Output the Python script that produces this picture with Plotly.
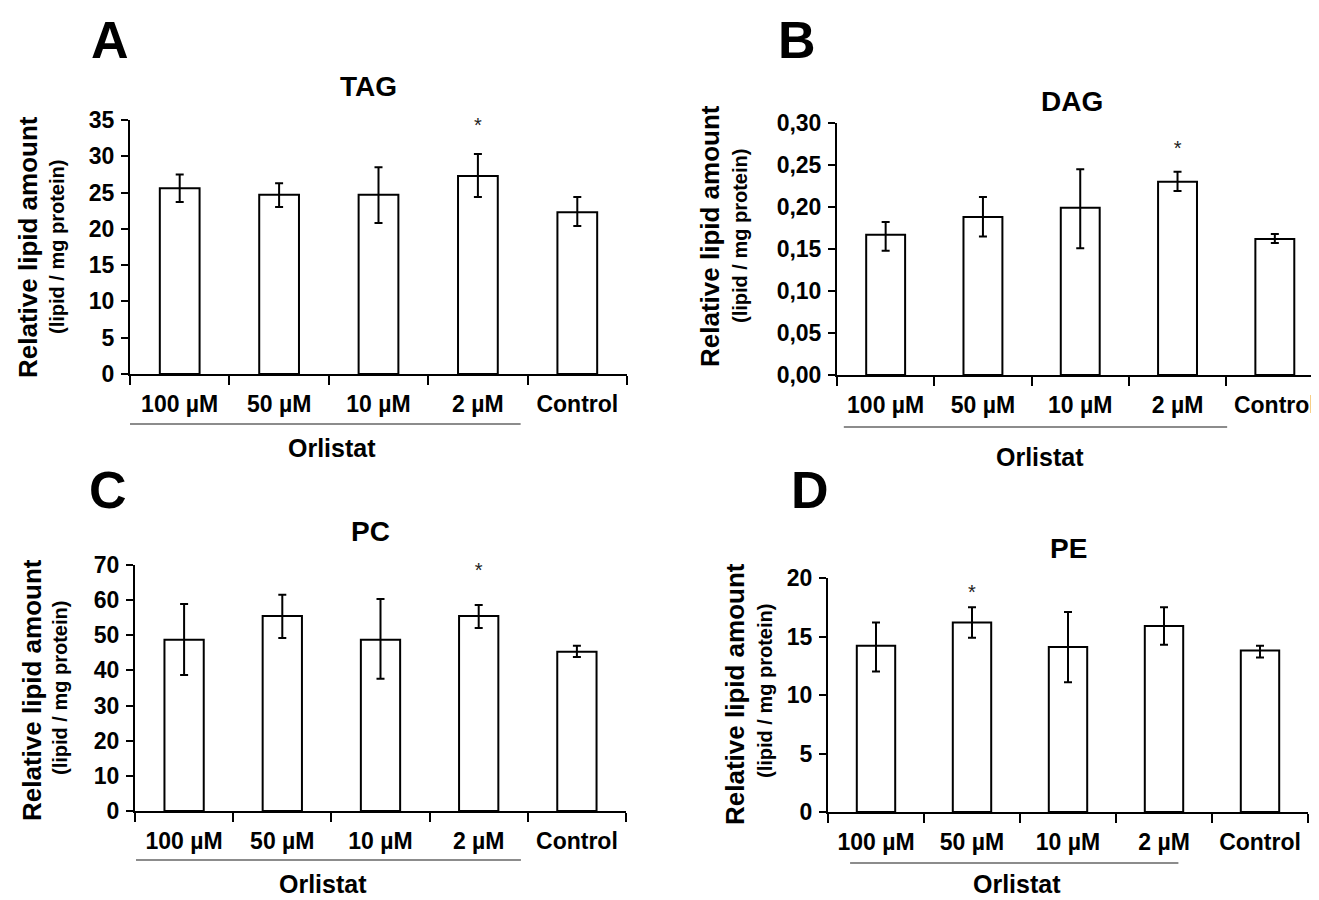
import plotly.graph_objects as go

# ---------------- data ----------------
categories = ["100 µM", "50 µM", "10 µM", "2 µM", "Control"]

tag_values = [25.6, 24.7, 24.7, 27.3, 22.3]
tag_err_plus = [1.9, 1.6, 3.8, 3.0, 2.1]
tag_err_minus = [1.9, 1.7, 3.9, 2.9, 1.9]

dag_values = [0.167, 0.188, 0.199, 0.230, 0.162]
dag_err_plus = [0.015, 0.024, 0.046, 0.012, 0.006]
dag_err_minus = [0.019, 0.023, 0.048, 0.011, 0.005]

pc_values = [48.7, 55.5, 48.7, 55.5, 45.3]
pc_err_plus = [10.2, 6.0, 11.6, 3.1, 1.7]
pc_err_minus = [10.0, 6.3, 11.1, 3.4, 1.5]

pe_values = [14.2, 16.2, 14.1, 15.9, 13.8]
pe_err_plus = [2.0, 1.3, 3.0, 1.6, 0.4]
pe_err_minus = [2.2, 1.3, 3.0, 1.6, 0.6]

# significance markers (category, y position)
tag_star = ("2 µM", 34.0)
dag_star = ("2 µM", 0.268)
pc_star = ("2 µM", 68.0)
pe_star = ("50 µM", 18.6)

panel_titles = ["TAG", "DAG", "PC", "PE"]
panel_letters = ["A", "B", "C", "D"]
y_ranges = [[0, 35], [0, 0.30], [0, 70], [0, 20]]
y_dticks = [5, 0.05, 10, 5]
y_formats = ["d", ".2f", "d", "d"]

# ---------------- layout geometry ----------------
# The page body has an 8px margin, so the figure is sized to fill the
# 1319x900 window exactly; positions below are window pixels.
PAGE_MARGIN = 8
W, H = 1319 - PAGE_MARGIN, 900 - PAGE_MARGIN
FONT = "Liberation Sans, Arial, sans-serif"


def px(x):
    return (x - PAGE_MARGIN) / W


def py(y):
    return 1 - (y - PAGE_MARGIN) / H


# window-pixel boxes of plot areas: (x_left, x_right, y_top, y_bottom)
boxes = [
    (130, 627, 120, 374),
    (837, 1319, 123, 375),
    (135, 626, 565, 811),
    (828, 1308, 578, 812),
]
x_ranges = [[-0.5, 4.5], [-0.5, 4.454], [-0.5, 4.5], [-0.5, 4.5]]

# underline spans (in category units) and y (pixel)
underlines = [(-0.62, 3.43, 424), (-0.43, 3.51, 427), (-0.49, 3.43, 860), (-0.27, 3.15, 863)]
orlistat_pos = [(332, 448), (1040, 457), (323, 884), (1017, 884)]
title_pos = [(368, 87), (1072, 101), (370, 531), (1068, 548)]
letter_pos = [(110, 40), (797, 40), (108, 490), (810, 490)]
ytitle_main = [(28, 247), (710, 236), (32, 690), (735, 694)]
ytitle_sub = [(57, 247), (740, 236), (60, 688), (765, 691)]

series = [
    (tag_values, tag_err_plus, tag_err_minus, tag_star),
    (dag_values, dag_err_plus, dag_err_minus, dag_star),
    (pc_values, pc_err_plus, pc_err_minus, pc_star),
    (pe_values, pe_err_plus, pe_err_minus, pe_star),
]

fig = go.Figure()
annotations = []
shapes = []
layout_axes = {}

for i, (vals, ep, em, star) in enumerate(series):
    n = i + 1
    xa = "x" if n == 1 else f"x{n}"
    ya = "y" if n == 1 else f"y{n}"
    fig.add_trace(go.Bar(
        x=categories, y=vals, xaxis=xa, yaxis=ya,
        marker=dict(color="white", line=dict(color="black", width=2)),
        error_y=dict(type="data", symmetric=False, array=ep, arrayminus=em,
                     color="black", thickness=2, width=4),
        width=0.4, showlegend=False, hoverinfo="x+y",
    ))
    fig.add_trace(go.Scatter(
        x=[star[0]], y=[star[1]], xaxis=xa, yaxis=ya, mode="text", text=["*"],
        textfont=dict(family=FONT, size=20, color="#222"), showlegend=False,
        hoverinfo="skip", cliponaxis=False,
    ))

    xl, xr, yt, yb = boxes[i]
    xkey = "xaxis" if n == 1 else f"xaxis{n}"
    ykey = "yaxis" if n == 1 else f"yaxis{n}"
    layout_axes[xkey] = dict(
        domain=[max(px(xl), 0.0), min(px(xr), 1.0)], anchor=ya, type="category",
        range=x_ranges[i], showline=True, linecolor="black", linewidth=2,
        ticks="outside", tickson="boundaries", ticklen=9, tickwidth=2,
        tickcolor="black", showgrid=False, zeroline=False, automargin=False,
        tickfont=dict(family=FONT, size=23, color="black", weight="bold"),
        ticklabelstandoff=8, fixedrange=True,
    )
    layout_axes[ykey] = dict(
        domain=[py(yb), py(yt)], anchor=xa, range=y_ranges[i],
        dtick=y_dticks[i], tick0=0, tickformat=y_formats[i],
        showline=True, linecolor="black", linewidth=2,
        ticks="outside", ticklen=7, tickwidth=2, tickcolor="black",
        showgrid=False, zeroline=False, automargin=False,
        tickfont=dict(family=FONT, size=23, color="black", weight="bold"),
        ticklabelstandoff=2, fixedrange=True,
    )

    x0, x1, uy = underlines[i]
    shapes.append(dict(type="line", xref=xa, yref="paper", x0=x0, x1=x1,
                       y0=py(uy), y1=py(uy),
                       line=dict(color="#666666", width=1.5)))

    ox, oy = orlistat_pos[i]
    annotations.append(dict(text="Orlistat", x=px(ox), y=py(oy), xref="paper", yref="paper",
                            showarrow=False, xanchor="center", yanchor="middle",
                            font=dict(family=FONT, size=25, color="black", weight="bold")))
    tx, ty = title_pos[i]
    annotations.append(dict(text=panel_titles[i], x=px(tx), y=py(ty), xref="paper", yref="paper",
                            showarrow=False, xanchor="center", yanchor="middle",
                            font=dict(family=FONT, size=28, color="black", weight="bold")))
    lx, ly = letter_pos[i]
    annotations.append(dict(text=panel_letters[i], x=px(lx), y=py(ly), xref="paper", yref="paper",
                            showarrow=False, xanchor="center", yanchor="middle",
                            font=dict(family=FONT, size=52, color="black", weight="bold")))
    mx, my = ytitle_main[i]
    annotations.append(dict(text="Relative lipid amount", x=px(mx), y=py(my), xref="paper", yref="paper",
                            showarrow=False, xanchor="center", yanchor="middle", textangle=-90,
                            font=dict(family=FONT, size=26, color="black", weight="bold")))
    sx, sy = ytitle_sub[i]
    annotations.append(dict(text="(lipid / mg protein)", x=px(sx), y=py(sy), xref="paper", yref="paper",
                            showarrow=False, xanchor="center", yanchor="middle", textangle=-90,
                            font=dict(family=FONT, size=20, color="black", weight="bold")))

fig.update_layout(
    template="none",
    width=W, height=H, margin=dict(l=0, r=0, t=0, b=0, autoexpand=False),
    paper_bgcolor="white", plot_bgcolor="white",
    separators=",.", bargap=0.6,
    annotations=annotations, shapes=shapes,
    **layout_axes,
)

fig.write_html("out.html")
